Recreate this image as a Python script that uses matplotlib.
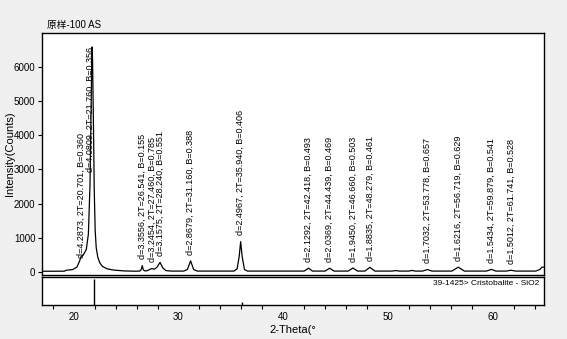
import matplotlib

matplotlib.use("Agg")
import matplotlib.pyplot as plt
import numpy as np

FONT = ["Liberation Sans", "Noto Sans CJK SC", "DejaVu Sans"]
plt.rcParams["font.family"] = FONT

# ---- data ---------------------------------------------------------------
two_theta = [17.0, 19.1, 19.3, 19.9, 20.3, 20.55, 20.7, 20.9, 21.2, 21.4,
             21.55, 21.65, 21.72, 21.76, 21.80, 21.88, 21.96, 22.05, 22.15,
             22.3, 22.5, 22.75, 23.2, 23.8, 24.8, 25.8, 26.3, 26.45, 26.54,
             26.65, 26.8, 27.0, 27.3, 27.46, 27.7, 27.95, 28.24, 28.5, 28.8,
             29.3, 30.5, 30.85, 31.16, 31.45, 31.8, 35.3, 35.6, 35.8, 35.94,
             36.08, 36.3, 36.6, 42.0, 42.418, 42.8, 44.0, 44.439, 44.85, 46.2,
             46.66, 47.1, 47.8, 48.279, 48.75, 50.4, 50.75, 51.1, 52.0, 52.3,
             52.6, 53.3, 53.778, 54.2, 56.1, 56.719, 57.3, 59.4, 59.879, 60.3,
             61.3, 61.741, 62.2, 64.1, 64.5, 64.7, 64.9]
counts = [10, 12, 40, 60, 130, 300, 440, 480, 650, 1100,
          2500, 4600, 6200, 6600, 6200, 4400, 2400, 1200, 700,
          420, 250, 150, 80, 45, 20, 12, 15, 60, 175,
          50, 20, 25, 70, 90, 70, 130, 270, 110, 30,
          15, 15, 60, 315, 60, 15, 15, 80, 450, 880,
          450, 60, 15, 15, 100, 15, 15, 100, 15, 15,
          105, 15, 15, 125, 15, 15, 30, 15, 15, 35,
          15, 15, 60, 15, 15, 130, 15, 15, 65, 15,
          15, 40, 15, 15, 60, 130, 130]

# labelled peaks: 2T, d, B
peak_2t = [20.701, 21.760, 26.541, 27.460, 28.240, 31.160, 35.940, 42.418,
           44.439, 46.660, 48.279, 53.778, 56.719, 59.879, 61.741]
peak_d = ["4.2873", "4.0809", "3.3556", "3.2454", "3.1575", "2.8679", "2.4967",
          "2.1292", "2.0369", "1.9450", "1.8835", "1.7032", "1.6216", "1.5434",
          "1.5012"]
peak_b = ["0.360", "0.356", "0.155", "0.785", "0.551", "0.388", "0.406",
          "0.493", "0.469", "0.503", "0.461", "0.657", "0.629", "0.541",
          "0.528"]

# reference pattern 39-1425 (Cristobalite) sticks
ref_2t = [21.98, 36.08]
ref_rel = [100, 12]

# ---- figure ----------------------------------------------------------------
fig = plt.figure(figsize=(5.67, 3.39), dpi=100, facecolor="#f0f0f0")
ax = fig.add_axes([0.0746, 0.1888, 0.8848, 0.713])
ax2 = fig.add_axes([0.0746, 0.1003, 0.8848, 0.0826])

ax.plot(two_theta, counts, color="black", lw=0.9)
ax.set_xlim(17.0, 64.9)
ax.set_ylim(-100, 7000)
ax.set_xticks([])
ax.set_yticks(range(0, 7000, 1000))
ax.tick_params(axis="y", direction="out", length=3, width=0.8, labelsize=7, pad=2)
ax.set_ylabel("Intensity(Counts)", fontsize=8)
ax.yaxis.set_label_coords(-0.054, 0.5)
for s in ax.spines.values():
    s.set_linewidth(1.0)

ax.text(0.009, 1.012, "原样-100 AS", transform=ax.transAxes, fontsize=7,
        ha="left", va="bottom", family=FONT)

for t, d, b in zip(peak_2t, peak_d, peak_b):
    label = f"d={d}, 2T={t:.3f}, B={b}"
    h = np.interp(t, two_theta, counts)
    if t == 21.760:
        ax.text(t - 0.22, h, label, rotation=90, ha="center", va="top",
                fontsize=6.5)
        continue
    off = -1 if t == 20.701 else 4.5
    ax.annotate(label, (t, h), xytext=(0, off), textcoords="offset points",
                rotation=90, ha="center", va="bottom", fontsize=6.5)

# ---- lower panel: reference sticks ----------------------------------------
ax2.vlines(ref_2t, 0, ref_rel, color="black", lw=1.0)
ax2.set_xlim(17.0, 64.9)
ax2.set_ylim(0, 108)
ax2.set_yticks([])
ax2.set_xticks(range(20, 61, 10))
ax2.set_xticks([v for v in range(18, 65, 2) if v % 10], minor=True)
ax2.tick_params(axis="x", which="major", length=0, labelsize=7, pad=5)
ax2.tick_params(axis="x", which="minor", direction="out", length=3, width=0.8)
ax2.text(0.99, 0.88, "39-1425> Cristobalite - SiO2", transform=ax2.transAxes,
         ha="right", va="top", fontsize=6)
ax2.set_xlabel("2-Theta(°", fontsize=8, labelpad=2)
for s in ax2.spines.values():
    s.set_linewidth(1.0)

fig.savefig("out.png", dpi=100, facecolor=fig.get_facecolor())
